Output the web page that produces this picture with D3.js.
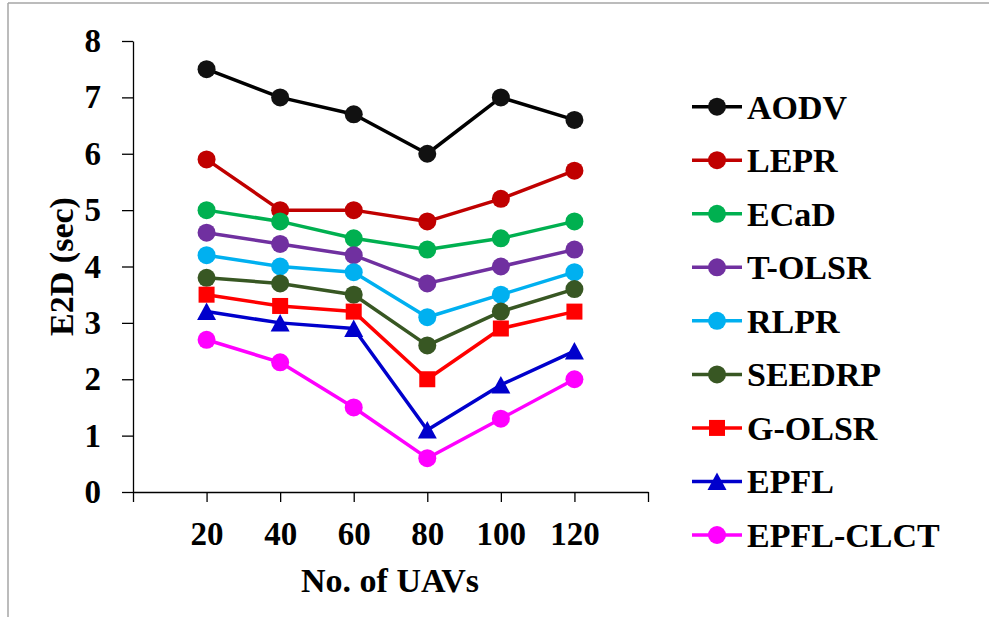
<!DOCTYPE html>
<html>
<head>
<meta charset="utf-8">
<script src="https://cdn.jsdelivr.net/npm/d3@7"></script>
<style>
  body { margin: 0; background: #fff; }
</style>
</head>
<body>
<div class="canvas"></div>
<script>
// data
const uavCounts = [20, 40, 60, 80, 100, 120];
const xTicks = [0, 20, 40, 60, 80, 100, 120, 140];
const yTicks = [0, 1, 2, 3, 4, 5, 6, 7, 8];
const seriesNames = ["AODV", "LEPR", "ECaD", "T-OLSR", "RLPR", "SEEDRP", "G-OLSR", "EPFL", "EPFL-CLCT"];
const aodv = [7.5, 7.0, 6.7, 6.0, 7.0, 6.6];
const lepr = [5.9, 5.0, 5.0, 4.8, 5.2, 5.7];
const ecad = [5.0, 4.8, 4.5, 4.3, 4.5, 4.8];
const tOlsr = [4.6, 4.4, 4.2, 3.7, 4.0, 4.3];
const rlpr = [4.2, 4.0, 3.9, 3.1, 3.5, 3.9];
const seedrp = [3.8, 3.7, 3.5, 2.6, 3.2, 3.6];
const gOlsr = [3.5, 3.3, 3.2, 2.0, 2.9, 3.2];
const epfl = [3.2, 3.0, 2.9, 1.1, 1.9, 2.5];
const epflClct = [2.7, 2.3, 1.5, 0.6, 1.3, 2.0];

const seriesValues = [aodv, lepr, ecad, tOlsr, rlpr, seedrp, gOlsr, epfl, epflClct];
const colors = ["#000000", "#c00000", "#00b050", "#7030a0", "#00b0f0", "#385723", "#ff0000", "#0000cc", "#ff00ff"];
const markerFill = ["#111111", "#c00000", "#00b050", "#7030a0", "#00b0f0", "#385723", "#ff0000", "#0000cc", "#ff00ff"];
const shapes = ["circle", "circle", "circle", "circle", "circle", "circle", "square", "triangle", "circle"];

const series = seriesNames.map((name, i) => ({
  name,
  color: colors[i],
  fill: markerFill[i],
  shape: shapes[i],
  values: uavCounts.map((u, j) => ({ x: u, y: seriesValues[i][j] }))
}));

const width = 989;
const height = 617;
const fontFamily = "Liberation Serif";

const svg = d3
  .select(".canvas")
  .append("svg")
  .attr("width", width)
  .attr("height", height)
  .attr("font-family", fontFamily)
  .attr("font-weight", "bold");

// outer frame (top and left edges visible)
svg.append("line")
  .attr("x1", 8).attr("x2", width).attr("y1", 3).attr("y2", 3)
  .attr("stroke", "#a6a6a6").attr("stroke-width", 1.5);
svg.append("line")
  .attr("x1", 8).attr("x2", 8).attr("y1", 3).attr("y2", height)
  .attr("stroke", "#a6a6a6").attr("stroke-width", 1.5);

// scales
const x = d3.scaleLinear().domain([0, 140]).range([133, 648]);
const y = d3.scaleLinear().domain([0, 8]).range([492, 41]);

// axes
const xAxis = d3.axisBottom(x)
  .tickValues(xTicks)
  .tickSize(10)
  .tickSizeOuter(0)
  .tickFormat((d) => (d === 0 || d === 140 ? "" : d));

const yAxis = d3.axisLeft(y)
  .tickValues(yTicks)
  .tickSize(11)
  .tickSizeOuter(0)
  .tickPadding(21);

const xAxisGroup = svg.append("g")
  .attr("transform", `translate(0, ${y(0)})`)
  .call(xAxis);

const yAxisGroup = svg.append("g")
  .attr("transform", `translate(${x(0)}, 0)`)
  .call(yAxis);

[xAxisGroup, yAxisGroup].forEach((g) => {
  g.attr("font-family", fontFamily).attr("font-size", 33);
  g.selectAll("path, line").attr("stroke", "#000").attr("stroke-width", 1.3);
  g.selectAll("text")
    .attr("font-family", fontFamily)
    .attr("font-weight", "bold")
    .attr("fill", "#000");
});

xAxisGroup.selectAll("text").attr("y", 53).attr("dy", 0);

// axis titles
svg.append("text")
  .attr("x", 390)
  .attr("y", 592)
  .attr("text-anchor", "middle")
  .attr("font-family", fontFamily)
  .attr("font-size", 34)
  .text("No. of UAVs");

svg.append("text")
  .attr("transform", `translate(73, ${(y(0) + y(8)) / 2}) rotate(-90)`)
  .attr("text-anchor", "middle")
  .attr("font-family", fontFamily)
  .attr("font-size", 34)
  .text("E2D (sec)");

// marker drawing
const drawMarker = (g, shape, fill) => {
  if (shape === "square") {
    g.append("rect").attr("x", -8).attr("y", -8).attr("width", 16).attr("height", 16).attr("fill", fill);
  } else if (shape === "triangle") {
    g.append("path").attr("d", "M0,-9L9.5,8.5L-9.5,8.5Z").attr("fill", fill);
  } else {
    g.append("circle").attr("r", 9).attr("fill", fill);
  }
};

// lines
const line = d3.line()
  .x((d) => x(d.x))
  .y((d) => y(d.y));

const plot = svg.append("g");

series.forEach((s) => {
  plot.append("path")
    .datum(s.values)
    .attr("fill", "none")
    .attr("stroke", s.color)
    .attr("stroke-width", 3.5)
    .attr("stroke-linejoin", "round")
    .attr("d", line);

  s.values.forEach((d) => {
    const m = plot.append("g").attr("transform", `translate(${x(d.x)}, ${y(d.y)})`);
    drawMarker(m, s.shape, s.fill);
  });
});

// legend
const legend = svg.append("g");
const legendY = d3.scaleLinear().domain([0, seriesNames.length - 1]).range([106.7, 535]);

series.forEach((s, i) => {
  const row = legend.append("g").attr("transform", `translate(0, ${legendY(i)})`);
  row.append("line")
    .attr("x1", 692).attr("x2", 742)
    .attr("stroke", s.color)
    .attr("stroke-width", 3.5);
  const m = row.append("g").attr("transform", "translate(717, 0)");
  drawMarker(m, s.shape, s.fill);
  row.append("text")
    .attr("x", 747)
    .attr("y", 12)
    .attr("font-family", fontFamily)
    .attr("font-size", 34)
    .text(s.name);
});
</script>
</body>
</html>
